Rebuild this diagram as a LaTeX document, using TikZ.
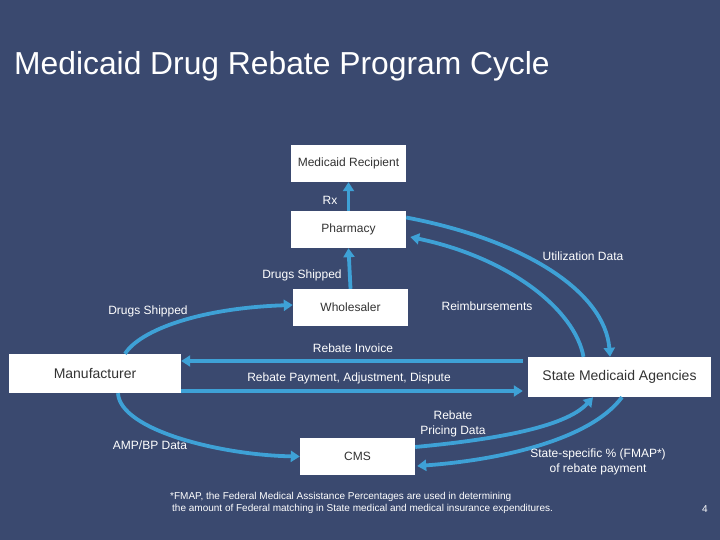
\documentclass[tikz,border=0pt]{standalone}
\usepackage{fontspec}
\setmainfont{Liberation Sans}
\usetikzlibrary{arrows.meta}
\definecolor{bg}{RGB}{58,73,111}
\definecolor{arrowblue}{RGB}{62,161,214}
\begin{document}
\begin{tikzpicture}[x=1pt,y=-1pt,
  box/.style={draw=none,fill=white,inner sep=0pt,text=black!80,font=\fontsize{12}{14}\selectfont},
  lbl/.style={text=white,inner sep=0pt,font=\fontsize{12}{15}\selectfont,align=center},
  arr/.style={draw=arrowblue,line width=3.8pt,-{Triangle[length=9pt,width=11pt]}},
]
\fill[bg] (0,0) rectangle (720,540);
\useasboundingbox (0,0) rectangle (720,540);

\node[text=white,anchor=west,inner sep=0pt,font=\fontsize{31.8}{36}\selectfont] (title) at (14,66) {Medicaid Drug Rebate Program Cycle};

\node[box,minimum width=115pt,minimum height=37pt] (rec) at (348.5,163.5) {Medicaid Recipient};
\node[box,minimum width=115pt,minimum height=37pt] (pha) at (348.5,229.5) {Pharmacy};
\node[box,minimum width=115pt,minimum height=37pt] (who) at (350.5,307.5) {Wholesaler};
\node[box,minimum width=172pt,minimum height=39pt,font=\fontsize{14}{16}\selectfont] (man) at (95,373.5) {Manufacturer};
\node[box,minimum width=183pt,minimum height=40pt,font=\fontsize{14}{16}\selectfont] (sma) at (619.5,377) {State Medicaid Agencies};
\node[box,minimum width=115pt,minimum height=37pt] (cms) at (357.5,456.5) {CMS};

% connectors
\draw[arr] (pha.north) -- (rec.south);
\draw[arr] (who.north) -- (pha.south);
\draw[arr] ([yshift=12pt]pha.east) .. controls (525,240) and (605,292) .. ([xshift=-9.5pt]sma.north);
\draw[arr] ([xshift=-36pt]sma.north) .. controls (575,310) and (510,258) .. ([xshift=4pt,yshift=-7.5pt]pha.east);
\draw[arr] ([xshift=30pt]man.north) .. controls (140,330) and (200,308) .. ([yshift=2.5pt]who.west);
\draw[arr] ([xshift=23pt]man.south) .. controls (120,430) and (220,455) .. (cms.west);
\draw[arr] ([xshift=-5pt,yshift=16pt]sma.west) -- ([yshift=12.5pt]man.east);
\draw[arr] ([yshift=-17.5pt]man.east) -- ([xshift=-5pt,yshift=-14pt]sma.west);
\draw[arr] ([yshift=9.5pt]cms.east) .. controls (490,440) and (565,428) .. ([xshift=-26.5pt]sma.south);
\draw[arr] ([xshift=2.5pt]sma.south) .. controls (590,440) and (500,460) .. ([xshift=2pt,yshift=-9.5pt]cms.east);

% labels
\node[lbl] (lrx) at (330,200) {Rx};
\node[lbl] (lds1) at (302,275) {Drugs Shipped};
\node[lbl] (lud) at (583,256) {Utilization Data};
\node[lbl] (lre) at (487,306) {Reimbursements};
\node[lbl] (lds2) at (148,311) {Drugs Shipped};
\node[lbl] (lri) at (353,348) {Rebate Invoice};
\node[lbl] (lrp) at (349,378) {Rebate Payment, Adjustment, Dispute};
\node[lbl] (lrpd) at (453,423.5) {Rebate\\Pricing Data};
\node[lbl] (lamp) at (150,445) {AMP/BP Data};
\node[lbl] (lss) at (598,461.5) {State-specific \% (FMAP*)\\of rebate payment};
\node[lbl,align=left,anchor=west,font=\fontsize{10}{12}\selectfont] (foot) at (170,503) {*FMAP, the Federal Medical Assistance Percentages are used in determining\\\hspace{2pt}the amount of Federal matching in State medical and medical insurance expenditures.};
\node[lbl,font=\fontsize{10}{12}\selectfont] (pg) at (705,509) {4};
\end{tikzpicture}
\end{document}
